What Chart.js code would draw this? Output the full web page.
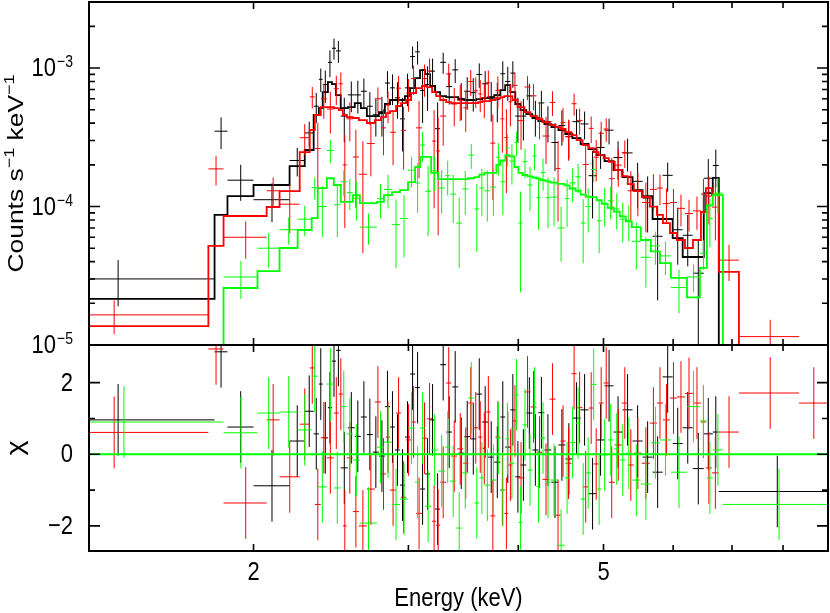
<!DOCTYPE html>
<html>
<head>
<meta charset="utf-8">
<title>Spectrum fit</title>
<script src="https://cdn.jsdelivr.net/npm/chart.js@4.4.0/dist/chart.umd.min.js"></script>
<style>
  html, body { margin: 0; padding: 0; background: #fff; }
  #wrap { position: relative; width: 830px; height: 613px; overflow: hidden; }
  #spec { position: absolute; left: 0; top: 0; }
  #resid { position: absolute; left: 0; top: 345px; }
</style>
</head>
<body>
<div id="wrap">
  <canvas id="spec" width="830" height="360"></canvas>
  <canvas id="resid" width="830" height="268"></canvas>
</div>
<script>
// axis ranges and tick marks
const energyRange = [1.3, 9.0];
const rateRange = [1e-5, 3e-3];
const chiRange = [-2.7, 3.05];
const energyMajor = [2, 5];
const energyMinor = [3, 4, 6, 7, 8];
const energyTickLabels = ['2', '5'];
const rateMajor = [1e-5, 1e-4, 1e-3];
const rateMinor = [2e-5, 3e-5, 4e-5, 5e-5, 6e-5, 7e-5, 8e-5, 9e-5,
                   2e-4, 3e-4, 4e-4, 5e-4, 6e-4, 7e-4, 8e-4, 9e-4, 2e-3];
const rateTickExps = ['−5', '−4', '−3'];
const chiMajor = [-2, 0, 2];
const chiMinor = [-1, 1];
const chiTickLabels = ['−2', '0', '2'];

// black spectrum: bin edges (keV), rate, error, model, residual
const blackEdges = [1.0, 1.806, 1.868, 2.0, 2.198, 2.287, 2.341, 2.373, 2.397, 2.430, 2.456, 2.482, 2.513, 2.560,
  2.607, 2.649, 2.691, 2.733, 2.777, 2.821, 2.859, 2.896, 2.935, 2.973, 3.013, 3.053, 3.093, 3.134, 3.175, 3.217,
  3.260, 3.312, 3.364, 3.418, 3.472, 3.527, 3.584, 3.639, 3.697, 3.756, 3.817, 3.865, 3.918, 3.969, 4.023, 4.085,
  4.150, 4.216, 4.283, 4.363, 4.444, 4.524, 4.609, 4.709, 4.808, 4.910, 5.014, 5.133, 5.256, 5.395, 5.539, 5.686,
  5.837, 5.993, 6.152, 6.316, 6.501, 6.656, 6.762, 9.0];
const blackRate = [3.0e-5, 3.5e-4, 1.55e-4, 1.12e-4, 2.15e-4, 3.4e-4, 5.3e-4, 8.3e-4, 7.6e-4, 1.1e-3,
  1.39e-3, 1.33e-3, 4.5e-4, 6.4e-4, 6.4e-4, 6.8e-4, 5.3e-4, 4.6e-4, 4.7e-4, 7.8e-4,
  7.2e-4, 6.1e-4, 4.3e-4, 7.2e-4, 1.21e-3, 1.31e-3, 6.9e-4, 7.6e-4, 9.5e-4, 3.65e-4,
  1.1e-3, 7.35e-4, 9.7e-4, 6.0e-4, 6.8e-4, 6.65e-4, 9.0e-4, 7.7e-4, 6.0e-4, 5.96e-4,
  9.1e-4, 8.0e-4, 9.2e-4, 4.5e-4, 4.5e-4, 6.3e-4, 4.5e-4, 5.6e-4, 4.1e-4, 2.9e-4,
  3.85e-4, 3.2e-4, 4.1e-4, 3.95e-4, 1.67e-4, 2.67e-4, 3.56e-4, 2.26e-4, 2.44e-4, 1.52e-4,
  1.15e-4, 6.1e-5, 1.68e-4, 6.8e-5, 6.2e-5, 3.3e-5, 1.6e-4, 1.98e-4, 2e-7];
const blackErr = [1.1e-5, 0.9e-4, 0.45e-4, 0.35e-4, 0.5e-4, 0.7e-4, 1.3e-4, 1.6e-4, 2.0e-4, 2.4e-4,
  2.4e-4, 2.4e-4, 1.6e-4, 1.6e-4, 1.7e-4, 1.6e-4, 1.4e-4, 1.4e-4, 1.5e-4, 1.7e-4,
  1.8e-4, 1.8e-4, 1.8e-4, 1.9e-4, 2.2e-4, 2.5e-4, 2.9e-4, 2.7e-4, 2.2e-4, 2.0e-4,
  1.9e-4, 1.9e-4, 1.9e-4, 1.8e-4, 1.8e-4, 1.8e-4, 1.8e-4, 1.8e-4, 1.9e-4, 1.9e-4,
  2.1e-4, 2.2e-4, 2.0e-4, 1.6e-4, 1.5e-4, 1.4e-4, 1.3e-4, 1.25e-4, 1.2e-4, 1.1e-4,
  1.1e-4, 1.0e-4, 0.95e-4, 0.9e-4, 0.85e-4, 0.8e-4, 0.75e-4, 0.7e-4, 0.65e-4, 0.55e-4,
  0.5e-4, 0.4e-4, 0.4e-4, 0.3e-4, 0.25e-4, 0.25e-4, 0.6e-4, 0.6e-4, 2.7e-6];
const blackModel = [2.15e-5, 8.7e-5, 1.19e-4, 1.43e-4, 1.96e-4, 2.56e-4, 4.58e-4, 5.14e-4, 6.71e-4, 7.92e-4,
  7.66e-4, 6.38e-4, 5.14e-4, 5.23e-4, 5.59e-4, 5.14e-4, 4.50e-4, 4.50e-4, 4.81e-4, 5.50e-4,
  5.88e-4, 5.88e-4, 5.88e-4, 6.28e-4, 7.17e-4, 8.47e-4, 9.67e-4, 9.05e-4, 7.42e-4, 6.71e-4,
  6.28e-4, 6.17e-4, 6.17e-4, 5.97e-4, 5.88e-4, 5.88e-4, 5.97e-4, 6.07e-4, 6.17e-4, 6.38e-4,
  6.94e-4, 7.54e-4, 6.71e-4, 5.50e-4, 4.97e-4, 4.65e-4, 4.36e-4, 4.14e-4, 3.94e-4, 3.75e-4,
  3.57e-4, 3.34e-4, 3.12e-4, 2.83e-4, 2.60e-4, 2.35e-4, 2.13e-4, 1.83e-4, 1.63e-4, 1.315e-4,
  1.19e-4, 8.13e-5, 8.13e-5, 5.92e-5, 4.32e-5, 4.32e-5, 1.25e-4, 1.61e-4, 3e-6];
const blackChi = [0.96, 2.86, 0.76, -0.88, 0.37, 1.2, 0.57, 1.96, 0.46, 1.3,
  2.6, 2.9, -0.38, 0.74, 0.5, 1.04, 0.55, 0.06, -0.05, 1.33,
  0.76, 0.12, -0.86, 0.48, 2.24, 1.86, -0.97, -0.55, 0.96, -1.53,
  2.5, 0.62, 1.88, 0.03, 0.49, 0.43, 1.68, 0.9, -0.08, -0.22,
  1.04, 0.2, 1.24, -0.63, -0.3, 1.15, 0.12, 1.16, 0.12, -0.78,
  0.26, -0.13, 1.01, 1.24, -1.1, 0.4, 1.91, 0.62, 1.24, 0.37,
  -0.08, -0.5, 2.16, 0.3, 0.74, -0.4, 0.57, 0.62, -1.04];

// red spectrum
const redEdges = [1.0, 1.777, 1.849, 2.070, 2.141, 2.257, 2.317, 2.348, 2.385, 2.423, 2.468, 2.500, 2.527, 2.553,
  2.594, 2.635, 2.691, 2.748, 2.792, 2.829, 2.859, 2.905, 2.943, 2.982, 3.021, 3.061, 3.109, 3.150, 3.192, 3.226,
  3.260, 3.312, 3.356, 3.409, 3.463, 3.509, 3.555, 3.602, 3.640, 3.679, 3.718, 3.767, 3.817, 3.857, 3.898, 3.939,
  3.992, 4.066, 4.130, 4.196, 4.262, 4.341, 4.410, 4.468, 4.527, 4.599, 4.660, 4.734, 4.810, 4.873, 4.937, 5.002,
  5.069, 5.149, 5.245, 5.328, 5.413, 5.528, 5.645, 5.751, 5.842, 5.950, 6.060, 6.189, 6.320, 6.453, 6.538, 6.640,
  6.763, 7.128, 8.344, 9.0];
const redRate = [1.65e-5, 1.87e-4, 6.0e-5, 1.3e-4, 1.04e-4, 3.14e-4, 6.2e-4, 2.62e-4, 6.0e-4, 5.06e-4,
  7.1e-4, 7.7e-4, 2.0e-4, 4.3e-4, 2.28e-4, 1.71e-4, 2.85e-4, 6.0e-4, 3.7e-4, 5.4e-4,
  3.44e-4, 7.16e-4, 3.55e-4, 6.6e-4, 8.4e-4, 3.7e-4, 8.4e-4, 9.5e-4, 2.97e-4, 2.52e-4,
  4.5e-4, 9.06e-4, 5.5e-4, 5.85e-4, 5.16e-4, 8.0e-4, 6.85e-4, 6.5e-4, 6.1e-4, 7.85e-4,
  2.87e-4, 6.9e-4, 4.3e-4, 3.15e-4, 5.7e-4, 7.5e-4, 4.17e-4, 7.3e-4, 6.3e-4, 4.36e-4,
  3.23e-4, 5.65e-4, 1.88e-4, 4.04e-4, 3.19e-4, 5.53e-4, 4.19e-4, 2.01e-4, 3.67e-4, 2.27e-4,
  3.38e-4, 3.63e-4, 1.59e-4, 1.99e-4, 2.45e-4, 1.3e-4, 1.3e-4, 1.07e-4, 1.33e-4, 1.36e-4,
  1.05e-4, 1.07e-4, 9.7e-5, 8.9e-5, 9.3e-5, 1.23e-4, 1.19e-4, 9.9e-5, 4.1e-5, 1.15e-5, 7e-6];
const redErr = [0.45e-5, 0.45e-4, 1.8e-5, 0.32e-4, 0.4e-4, 0.8e-4, 1.1e-4, 1.4e-4, 1.7e-4, 1.7e-4,
  1.7e-4, 1.6e-4, 1.3e-4, 1.35e-4, 1.3e-4, 1.25e-4, 1.2e-4, 1.25e-4, 1.35e-4, 1.4e-4,
  1.45e-4, 1.6e-4, 1.7e-4, 1.75e-4, 2.0e-4, 2.1e-4, 2.2e-4, 2.2e-4, 2.0e-4, 1.9e-4,
  1.75e-4, 1.7e-4, 1.7e-4, 1.7e-4, 1.7e-4, 1.7e-4, 1.7e-4, 1.7e-4, 1.75e-4, 1.75e-4,
  1.75e-4, 1.8e-4, 1.85e-4, 1.9e-4, 1.9e-4, 1.75e-4, 1.6e-4, 1.45e-4, 1.35e-4, 1.3e-4,
  1.2e-4, 1.15e-4, 1.1e-4, 1.1e-4, 1.05e-4, 1.0e-4, 0.9e-4, 0.85e-4, 0.8e-4, 0.75e-4,
  0.72e-4, 0.7e-4, 0.65e-4, 0.6e-4, 0.55e-4, 0.5e-4, 0.45e-4, 0.42e-4, 0.38e-4, 0.34e-4,
  0.3e-4, 0.27e-4, 0.25e-4, 0.23e-4, 0.25e-4, 0.35e-4, 0.45e-4, 0.42e-4, 1.2e-5, 0.37e-5, 2.8e-6];
const redModel = [1.37e-5, 5.19e-5, 8.54e-5, 9.92e-5, 1.29e-4, 2.47e-4, 3.57e-4, 4.58e-4, 5.23e-4, 5.23e-4,
  5.14e-4, 4.97e-4, 4.58e-4, 4.43e-4, 4.36e-4, 4.21e-4, 4.01e-4, 4.21e-4, 4.43e-4, 4.73e-4,
  4.89e-4, 5.32e-4, 5.59e-4, 5.88e-4, 6.60e-4, 7.17e-4, 7.42e-4, 7.29e-4, 6.71e-4, 6.28e-4,
  5.88e-4, 5.68e-4, 5.59e-4, 5.59e-4, 5.59e-4, 5.59e-4, 5.59e-4, 5.68e-4, 5.78e-4, 5.78e-4,
  5.88e-4, 6.07e-4, 6.17e-4, 6.28e-4, 6.28e-4, 5.88e-4, 5.23e-4, 4.81e-4, 4.50e-4, 4.28e-4,
  4.07e-4, 3.88e-4, 3.75e-4, 3.63e-4, 3.45e-4, 3.28e-4, 3.02e-4, 2.78e-4, 2.64e-4, 2.47e-4,
  2.35e-4, 2.24e-4, 2.10e-4, 1.83e-4, 1.66e-4, 1.45e-4, 1.29e-4, 1.17e-4, 1.0e-4, 8.7e-5,
  7.6e-5, 6.44e-5, 5.73e-5, 5.02e-5, 5.73e-5, 9.13e-5, 1.36e-4, 1.21e-4, 3.37e-5, 6e-6, 3e-6];
const redChi = [0.61, 2.94, -1.36, 0.96, -0.63, 0.84, 2.41, -1.4, 0.46, -0.1,
  1.15, 1.68, -2.0, -0.1, -1.6, -2.0, -0.97, 1.46, -0.55, 0.48,
  -1.0, 1.15, -1.2, 0.4, 0.9, -1.65, 0.45, 0.99, -1.87, -1.98,
  -0.78, 1.99, -0.05, 0.15, -0.25, 1.43, 0.74, 0.48, 0.17, 1.18,
  -1.72, 0.48, -1.0, -1.65, -0.3, 0.93, -0.66, 1.74, 1.32, 0.06,
  -0.7, 1.54, -1.7, 0.37, -0.25, 2.25, 1.3, -0.91, 1.29, -0.27,
  1.43, 1.99, -0.78, 0.26, 1.43, -0.3, 0.03, -0.25, 0.87, 1.43,
  0.96, 1.57, 1.6, 1.7, 1.43, 0.9, -0.38, -0.52, 0.62, 1.71, 1.43];

// green spectrum
const greenEdges = [1.0, 1.849, 2.021, 2.141, 2.245, 2.329, 2.366, 2.423, 2.468, 2.513, 2.553, 2.594, 2.642,
  2.763, 2.814, 2.874, 2.935, 2.997, 3.053, 3.093, 3.134, 3.184, 3.243, 3.303, 3.347, 3.400, 3.454, 3.509,
  3.565, 3.612, 3.660, 3.718, 3.777, 3.817, 3.867, 3.908, 3.960, 4.002, 4.044, 4.098, 4.152, 4.196, 4.240,
  4.296, 4.352, 4.433, 4.516, 4.575, 4.648, 4.709, 4.772, 4.835, 4.911, 4.976, 5.055, 5.135, 5.217, 5.300,
  5.384, 5.513, 5.660, 5.796, 5.965, 6.221, 6.436, 6.555, 6.657, 6.835, 9.0];
const greenRate = [7.3e-6, 3.1e-5, 5.0e-5, 6.8e-5, 8.1e-5, 1.37e-4, 1.0e-4, 2.54e-4, 1.03e-4, 1.51e-4,
  1.26e-4, 1.15e-4, 7.1e-5, 1.14e-4, 1.33e-4, 7.4e-5, 8.2e-5, 1.83e-4, 1.48e-4, 2.78e-4,
  1.29e-4, 1.81e-4, 1.36e-4, 1.67e-4, 1.23e-4, 7.6e-5, 1.34e-4, 2.35e-4, 9.6e-5, 1.36e-4,
  1.3e-4, 1.38e-4, 2.27e-4, 1.51e-4, 2.65e-4, 2.13e-4, 2.9e-4, 7.6e-5, 2.11e-4, 1.43e-4,
  2.32e-4, 1.16e-4, 1.76e-4, 1.16e-4, 1.17e-4, 7.0e-5, 1.14e-4, 1.48e-4, 1.64e-4, 7.6e-5,
  1.0e-4, 1.85e-4, 7.9e-5, 1.04e-4, 1.1e-4, 9.6e-5, 8.1e-5, 7.9e-5, 5.6e-5, 4.3e-5,
  5.2e-5, 4.4e-5, 2.6e-5, 3.1e-5, 4.6e-5, 8.2e-5, 1.25e-4, 1.2e-6];
const greenErr = [1.4e-6, 0.95e-5, 1.4e-5, 1.5e-5, 2.0e-5, 2.5e-5, 4.0e-5, 4.8e-5, 4.3e-5, 3.2e-5,
  3.2e-5, 3.6e-5, 1.8e-5, 3.2e-5, 3.6e-5, 3.8e-5, 3.9e-5, 4.5e-5, 5.8e-5, 6.8e-5,
  6.8e-5, 5.2e-5, 4.7e-5, 4.7e-5, 4.7e-5, 4.0e-5, 4.7e-5, 4.8e-5, 4.9e-5, 5.1e-5,
  5.2e-5, 5.2e-5, 6.0e-5, 6.4e-5, 7.0e-5, 6.9e-5, 5.8e-5, 5.2e-5, 5.1e-5, 5.0e-5,
  4.9e-5, 4.8e-5, 4.6e-5, 4.6e-5, 4.5e-5, 3.0e-5, 4.3e-5, 4.0e-5, 3.9e-5, 3.7e-5,
  3.5e-5, 3.5e-5, 3.3e-5, 3.2e-5, 2.9e-5, 2.8e-5, 2.6e-5, 2.3e-5, 2.1e-5, 1.7e-5,
  1.4e-5, 1.2e-5, 0.9e-5, 0.7e-5, 1.1e-5, 3.1e-5, 3.6e-5, 1.3e-6];
const greenModel = [6e-6, 2.58e-5, 3.42e-5, 5.02e-5, 6.77e-5, 8.26e-5, 1.36e-4, 1.6e-4, 1.43e-4, 1.08e-4,
  1.08e-4, 1.21e-4, 1.06e-4, 1.08e-4, 1.21e-4, 1.27e-4, 1.315e-4, 1.5e-4, 1.93e-4, 2.28e-4,
  2.28e-4, 1.75e-4, 1.58e-4, 1.58e-4, 1.58e-4, 1.58e-4, 1.58e-4, 1.6e-4, 1.63e-4, 1.7e-4,
  1.75e-4, 1.75e-4, 2.0e-4, 2.15e-4, 2.35e-4, 2.3e-4, 1.93e-4, 1.75e-4, 1.69e-4, 1.65e-4,
  1.62e-4, 1.59e-4, 1.55e-4, 1.52e-4, 1.49e-4, 1.46e-4, 1.42e-4, 1.35e-4, 1.3e-4, 1.22e-4,
  1.18e-4, 1.17e-4, 1.11e-4, 1.05e-4, 9.8e-5, 9.2e-5, 8.5e-5, 7.8e-5, 7.1e-5, 5.73e-5,
  4.75e-5, 3.9e-5, 3.05e-5, 2.21e-5, 3.6e-5, 1.02e-4, 1.21e-4, 3e-6];
const greenChi = [0.9, 0.6, 1.15, 1.18, 0.68, 2.18, -0.91, 1.96, -0.94, 1.33,
  0.57, -0.16, -1.92, 0.2, 0.34, -1.4, -1.25, 0.73, -0.78, 0.73,
  -1.45, 0.12, -0.47, 0.2, -0.75, -2.06, -0.52, 1.57, -1.36, -0.66,
  -0.86, -0.72, 0.45, -1.0, 0.43, -0.25, 1.66, -1.9, 0.82, -0.44,
  1.43, -0.9, 0.45, -0.78, -0.72, -2.54, -0.66, 0.33, 0.87, -1.25,
  -0.52, 1.95, -0.97, -0.02, 0.4, 0.15, -0.16, 0.03, -0.72, -0.83,
  0.32, 0.4, -0.5, 1.33, 0.93, -0.66, 0.12, -1.4];

const FONT = '"Liberation Sans", Arial, Helvetica, sans-serif';
const SY = 1.2; // the lettering in the original is a little taller than wide

// a cross per bin: horizontal bar over the bin, vertical bar for the error
function crossPoints(edges, vals, errs, floor) {
  const pts = [];
  vals.forEach((v, i) => {
    const lo = edges[i], hi = edges[i + 1], mid = (lo + hi) / 2;
    pts.push({ x: lo, y: v }, { x: hi, y: v }, { x: mid, y: null });
    pts.push({ x: mid, y: Math.max(v - errs[i], floor) }, { x: mid, y: v + errs[i] }, { x: mid, y: null });
  });
  return pts;
}

// histogram outline of the model
function stepPoints(edges, model) {
  const pts = model.map((m, i) => ({ x: edges[i], y: m }));
  pts.push({ x: edges[edges.length - 1], y: model[model.length - 1] });
  return pts;
}

function crossSet(pts, color) {
  return { data: pts, showLine: true, borderColor: color, borderWidth: 1, pointRadius: 0, spanGaps: false };
}

function modelSet(pts, color) {
  return { data: pts, showLine: true, stepped: 'before', borderColor: color, borderWidth: 1.8, pointRadius: 0 };
}

function txt(ctx, s, size, x, y, align) {
  ctx.save();
  ctx.translate(x, y);
  ctx.scale(1, SY);
  ctx.font = size + 'px ' + FONT;
  ctx.textAlign = align;
  ctx.textBaseline = 'alphabetic';
  ctx.fillText(s, 0, 0);
  ctx.restore();
}

// vertical title made of pieces [text, size, raise]
function vtitle(ctx, parts, x, yc) {
  ctx.save();
  ctx.translate(x, yc);
  ctx.scale(1, SY);
  ctx.rotate(-Math.PI / 2);
  ctx.textAlign = 'left';
  ctx.textBaseline = 'alphabetic';
  let total = 0;
  parts.forEach(p => { ctx.font = p[1] + 'px ' + FONT; total += ctx.measureText(p[0]).width; });
  let u = -total / 2;
  parts.forEach(p => {
    ctx.font = p[1] + 'px ' + FONT;
    ctx.fillText(p[0], u, -p[2]);
    u += ctx.measureText(p[0]).width;
  });
  ctx.restore();
}

// frame with inward ticks on all four sides
const framePlugin = {
  id: 'frame',
  afterDatasetsDraw(chart, args, opts) {
    const { ctx, chartArea: a, scales } = chart;
    const xs = scales.x, ys = scales.y;
    ctx.save();
    ctx.strokeStyle = '#000';
    ctx.lineWidth = 1.6;
    ctx.beginPath();
    const xt = (vals, len) => vals.forEach(v => {
      const px = xs.getPixelForValue(v);
      ctx.moveTo(px, a.top); ctx.lineTo(px, a.top + len);
      ctx.moveTo(px, a.bottom); ctx.lineTo(px, a.bottom - len);
    });
    const yt = (vals, len) => vals.forEach(v => {
      const py = ys.getPixelForValue(v);
      ctx.moveTo(a.left, py); ctx.lineTo(a.left + len, py);
      ctx.moveTo(a.right, py); ctx.lineTo(a.right - len, py);
    });
    xt(energyMajor, 7);
    xt(energyMinor, 6);
    yt(opts.yMajor, 11);
    yt(opts.yMinor, 6);
    ctx.stroke();
    ctx.lineWidth = 2;
    ctx.strokeRect(a.left, a.top, a.right - a.left, a.bottom - a.top);
    ctx.restore();
  }
};

const specText = {
  id: 'specText',
  afterDraw(chart) {
    const { ctx, chartArea: a } = chart;
    const ys = chart.scales.y;
    const right = a.left - 16;
    ctx.save();
    ctx.fillStyle = '#000';
    rateMajor.forEach((v, i) => {
      const py = ys.getPixelForValue(v);
      ctx.font = '14px ' + FONT;
      const w = ctx.measureText(rateTickExps[i]).width;
      txt(ctx, rateTickExps[i], 14, right, py - 1, 'right');
      txt(ctx, '10', 22, right - w - 1, py + 8, 'right');
    });
    vtitle(ctx, [['Counts s', 22, 0], ['−1', 15, 9], [' keV', 22, 0], ['−1', 15, 9]],
      23, (a.top + a.bottom) / 2);
    ctx.restore();
  }
};

const residText = {
  id: 'residText',
  afterDraw(chart) {
    const { ctx, chartArea: a } = chart;
    const xs = chart.scales.x, ys = chart.scales.y;
    ctx.save();
    ctx.fillStyle = '#000';
    chiMajor.forEach((v, i) => {
      txt(ctx, chiTickLabels[i], 22, a.left - 16, ys.getPixelForValue(v) + 8, 'right');
    });
    energyMajor.forEach((v, i) => {
      txt(ctx, energyTickLabels[i], 22, xs.getPixelForValue(v), a.bottom + 29, 'center');
    });
    txt(ctx, 'Energy (keV)', 22, (a.left + a.right) / 2, a.bottom + 55, 'center');
    vtitle(ctx, [['χ', 24, 0]], 23, (a.top + a.bottom) / 2);
    ctx.restore();
  }
};

const BLACK = '#000000', RED = '#ff0000', GREEN = '#00ff00';
const ones = n => new Array(n).fill(1);

new Chart(document.getElementById('spec'), {
  type: 'scatter',
  data: {
    datasets: [
      modelSet(stepPoints(greenEdges, greenModel), GREEN),
      crossSet(crossPoints(greenEdges, greenRate, greenErr, 1e-8), GREEN),
      modelSet(stepPoints(redEdges, redModel), RED),
      crossSet(crossPoints(redEdges, redRate, redErr, 1e-8), RED),
      modelSet(stepPoints(blackEdges, blackModel), BLACK),
      crossSet(crossPoints(blackEdges, blackRate, blackErr, 1e-8), BLACK)
    ]
  },
  options: {
    responsive: false,
    animation: false,
    events: [],
    layout: { padding: { left: 89, right: 2, top: 2, bottom: 15 } },
    scales: {
      x: { type: 'logarithmic', min: energyRange[0], max: energyRange[1], display: false },
      y: { type: 'logarithmic', min: rateRange[0], max: rateRange[1], display: false }
    },
    plugins: {
      legend: { display: false },
      tooltip: { enabled: false },
      frame: { yMajor: rateMajor, yMinor: rateMinor }
    }
  },
  plugins: [framePlugin, specText]
});

new Chart(document.getElementById('resid'), {
  type: 'scatter',
  data: {
    datasets: [
      { data: [{ x: energyRange[0], y: 0 }, { x: energyRange[1], y: 0 }], showLine: true,
        borderColor: GREEN, borderWidth: 2, pointRadius: 0 },
      crossSet(crossPoints(greenEdges, greenChi, ones(greenChi.length), -100), GREEN),
      crossSet(crossPoints(redEdges, redChi, ones(redChi.length), -100), RED),
      crossSet(crossPoints(blackEdges, blackChi, ones(blackChi.length), -100), BLACK)
    ]
  },
  options: {
    responsive: false,
    animation: false,
    events: [],
    layout: { padding: { left: 89, right: 2, top: 0, bottom: 62 } },
    scales: {
      x: { type: 'logarithmic', min: energyRange[0], max: energyRange[1], display: false },
      y: { type: 'linear', min: chiRange[0], max: chiRange[1], display: false }
    },
    plugins: {
      legend: { display: false },
      tooltip: { enabled: false },
      frame: { yMajor: chiMajor, yMinor: chiMinor }
    }
  },
  plugins: [framePlugin, residText]
});
</script>
</body>
</html>
